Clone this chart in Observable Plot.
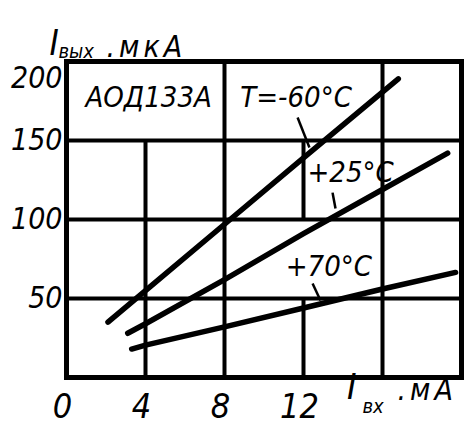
<!DOCTYPE html>
<html><head><meta charset="utf-8">
<script src="https://cdn.jsdelivr.net/npm/d3@7"></script>
<script src="https://cdn.jsdelivr.net/npm/@observablehq/plot@0.6"></script>
<style>
html,body{margin:0;padding:0;background:#fff}
svg{display:block}
svg text{font-stretch:condensed}
</style>
</head><body><div id="chart"></div>
<script>
// Tick labels
const xTicks = [0, 4, 8, 12];
const yTicks = [50, 100, 150];
const yTopTick = [200];

// Series: I_вых (мкА) vs I_вх (мА) for three temperatures
const xM60 = [2.1, 4, 8, 12, 16.8];
const yM60 = [35, 55, 97, 139, 189];
const xP25 = [3.1, 4, 8, 12, 16, 19.3];
const yP25 = [28, 34, 62, 91, 119, 142];
const xP70 = [3.3, 4, 8, 12, 16, 19.7];
const yP70 = [18, 20.5, 32, 44, 56, 66.5];

// Grid (partial verticals as in the original drawing)
const gridH = [50, 100, 150];
const gridVx = [4, 8, 12, 12, 16];
const gridVy1 = [0, 0, 0, 100, 0];
const gridVy2 = [150, 200, 50, 150, 200];

// Annotations
const labelText = ["АОД133А", "T=-60°C", "+25°C", "+70°C"];
const labelX = [0.96, 8.8, 12.2, 11.1];
const labelY = [177, 177, 129.7, 70.3];
const leaderX1 = [11.7, 13.47, 12.46];
const leaderY1 = [164.6, 117, 59.5];
const leaderX2 = [12.3, 13.62, 12.86];
const leaderY2 = [145.6, 107, 48.7];

const series = [
  ...xM60.map((x, i) => ({s: "-60", x, y: yM60[i]})),
  ...xP25.map((x, i) => ({s: "+25", x, y: yP25[i]})),
  ...xP70.map((x, i) => ({s: "+70", x, y: yP70[i]}))
];
const gridV = gridVx.map((x, i) => ({x, y1: gridVy1[i], y2: gridVy2[i]}));
const labels = labelText.map((t, i) => ({t, x: labelX[i], y: labelY[i]}));
const leaders = leaderX1.map((x1, i) => ({x1, y1: leaderY1[i], x2: leaderX2[i], y2: leaderY2[i]}));

const FONT = '"DejaVu Sans Condensed", "DejaVu Sans", sans-serif';

const chart = Plot.plot({
  width: 464,
  height: 427,
  marginLeft: 66,
  marginRight: 3,
  marginTop: 61,
  marginBottom: 50,
  x: {domain: [0, 20], axis: null},
  y: {domain: [0, 200], axis: null},
  style: {background: "#fff", color: "#000", fontFamily: FONT, fontStyle: "italic"},
  marks: [
    Plot.ruleY(gridH, {stroke: "#000", strokeWidth: 4}),
    Plot.ruleX(gridV, {x: "x", y1: "y1", y2: "y2", stroke: "#000", strokeWidth: 4}),
    Plot.frame({stroke: "#000", strokeWidth: 5}),
    Plot.line(series, {x: "x", y: "y", z: "s", stroke: "#000", strokeWidth: 5.5, strokeLinecap: "round"}),
    Plot.link(leaders, {x1: "x1", y1: "y1", x2: "x2", y2: "y2", stroke: "#000", strokeWidth: 2.5}),
    Plot.text(labels, {x: "x", y: "y", text: "t", textAnchor: "start", fontSize: 29, fill: "#000"}),
    // tick labels
    Plot.text(yTicks, {x: 0, y: d => d, text: d => String(d), textAnchor: "end", dx: -4, fontSize: 30, fill: "#000"}),
    Plot.text(yTopTick, {x: 0, y: d => d, text: d => String(d), textAnchor: "end", dx: -4, dy: 17, fontSize: 30, fill: "#000"}),
    Plot.text(xTicks, {x: d => d, y: 0, text: d => String(d), dx: -4, dy: 30, fontSize: 34, fill: "#000"}),
    // y title: I_вых .мкА
    Plot.text(["I"], {frameAnchor: "top-left", dx: -17, dy: -31, fontSize: 35, fill: "#000"}),
    Plot.text(["вых"], {frameAnchor: "top-left", textAnchor: "start", dx: -8, dy: -18, fontSize: 20, fill: "#000"}),
    Plot.text([".мкА"], {frameAnchor: "top-left", textAnchor: "start", dx: 40, dy: -26, fontSize: 30, fill: "#000"}),
    // x title: I_вх .мА
    Plot.text(["I"], {frameAnchor: "bottom-right", dx: -105, dy: 21, fontSize: 36, fill: "#000"}),
    Plot.text(["вх"], {frameAnchor: "bottom-right", textAnchor: "start", dx: -99, dy: 35, fontSize: 20, fill: "#000"}),
    Plot.text([".мА"], {frameAnchor: "bottom-right", textAnchor: "start", dx: -64, dy: 22, fontSize: 30, fill: "#000"})
  ]
});
// unit strings are drawn wider-spaced in the original
d3.select(chart).selectAll("text")
  .filter(function() { return this.textContent === ".мкА" || this.textContent === ".мА"; })
  .style("font-stretch", "normal")
  .style("letter-spacing", "4px");
document.getElementById("chart").appendChild(chart);
</script>
</body></html>
